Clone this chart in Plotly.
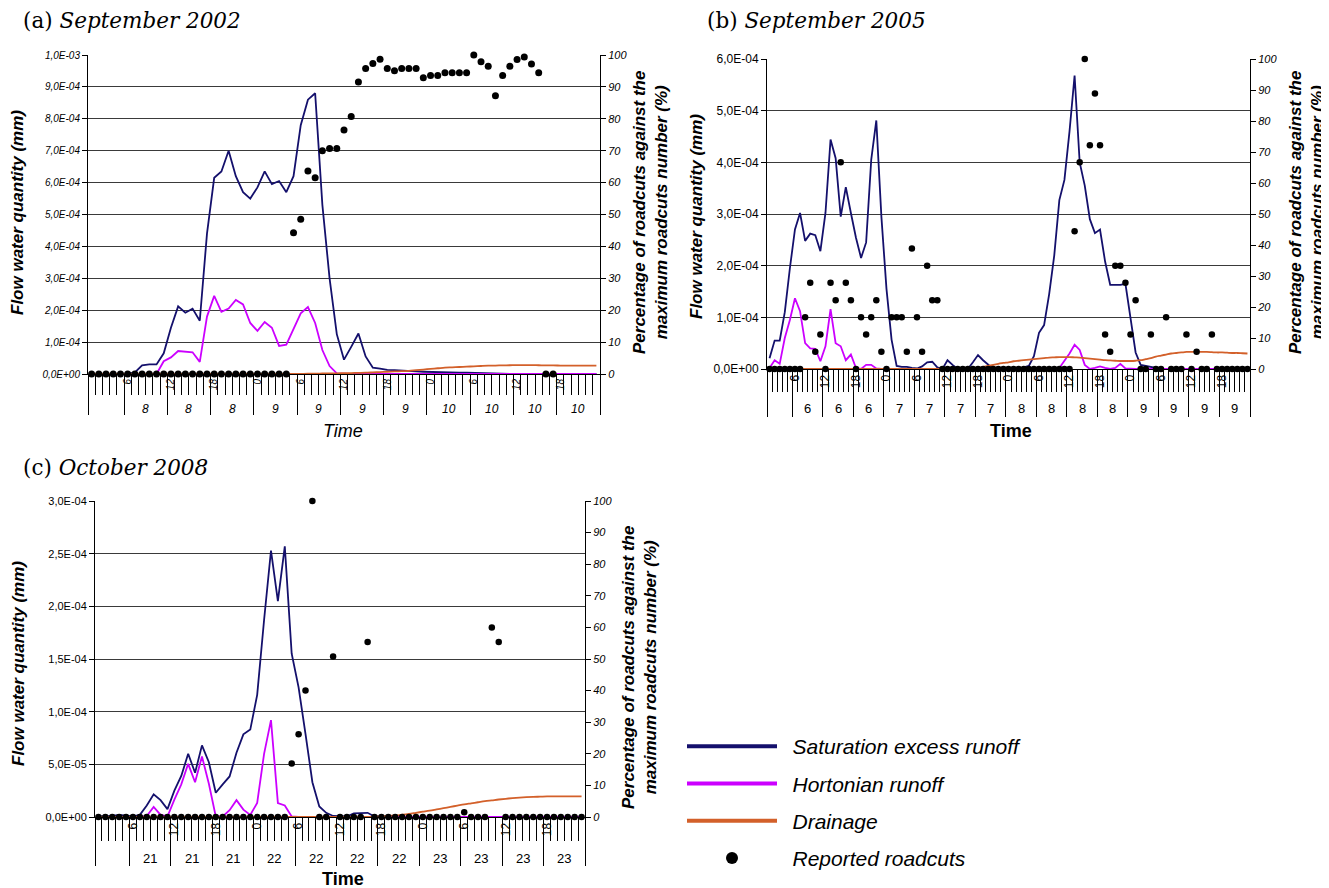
import plotly.graph_objects as go

REF_W, REF_H = 1329, 888
PAGE_OFF = 8                      # default body margin of the html page
W, H = REF_W - PAGE_OFF, REF_H - PAGE_OFF
NAVY = "#14106C"
MAGENTA = "#CC00FF"
ORANGE = "#D3602A"
SANS = "Liberation Sans"
SERIF = "DejaVu Serif"

# ---------------------------------------------------------------- DATA
# (a) September 2002 -- hourly categories (h=1..71), flow in 1e-4 mm, roadcuts in %
hours_a = list(range(1, 72))
sat_a = [0, 0, 0, 0, 0, 0, 0.05,
         0.27, 0.3, 0.3, 0.65, 1.45, 2.12, 1.92, 2.05, 1.67, 4.4,
         6.15, 6.35, 7.0, 6.2, 5.7, 5.5, 5.85, 6.35, 5.95, 6.05,
         5.7, 6.2, 7.8, 8.6, 8.8, 5.3, 3.0, 1.25, 0.45, 0.85,
         1.27, 0.55, 0.2, 0.17, 0.13, 0.12, 0.1, 0.09, 0.08, 0.07,
         0.06, 0.06, 0.05, 0.05, 0.04, 0.04, 0.03, 0.02, 0.02, 0.01,
         0, 0, 0, 0, 0, 0, 0, 0, 0, 0, 0, 0, 0, 0]
hort_a = [0, 0, 0, 0, 0, 0, 0, 0, 0, 0,
          0.4, 0.52, 0.72, 0.69, 0.68, 0.38, 1.8, 2.45, 1.95, 2.05,
          2.32, 2.18, 1.6, 1.35, 1.63, 1.45, 0.88, 0.92, 1.4, 1.9,
          2.1, 1.6, 0.75, 0.25, 0.02,
          0, 0, 0, 0, 0, 0, 0, 0, 0, 0, 0, 0, 0, 0, 0, 0, 0, 0,
          0, 0, 0, 0, 0, 0, 0, 0, 0, 0, 0, 0, 0, 0, 0, 0, 0, 0]
drain_a = [0] * 29 + [
    0.005, 0.01, 0.01, 0.015, 0.02, 0.02, 0.025, 0.03, 0.035, 0.04,
    0.05, 0.06, 0.07, 0.08, 0.09, 0.1, 0.12, 0.14, 0.16, 0.18,
    0.2, 0.21, 0.22, 0.23, 0.24, 0.25, 0.26, 0.265, 0.27, 0.275,
    0.28, 0.28, 0.28, 0.275, 0.27, 0.27, 0.265, 0.26, 0.26, 0.26,
    0.26, 0.26]
cuts_a = [0] * 28 + [
    44.3, 48.5, 63.6, 61.5, 70.0, 70.7, 70.7, 76.5, 80.7, 91.5,
    95.8, 97.3, 98.7, 95.8, 95.1, 95.8, 95.8, 95.8, 92.9, 93.6,
    93.6, 94.4, 94.4, 94.4, 94.4, 100, 97.9, 96.5, 87.2, 93.6,
    96.5, 98.6, 99.4, 97.2, 94.4,
    0, 0, None, None, None, None, None, None]
hour_labels_a = ["6", "12", "18", "0", "6", "12", "18", "0", "6", "12", "18"]
day_labels_a = ["8", "8", "8", "9", "9", "9", "9", "10", "10", "10", "10"]

# (b) September 2005 -- h=1..95
hours_b = list(range(1, 96))
sat_b = [0.21, 0.55, 0.55, 1.1, 1.95, 2.7, 3.02, 2.48, 2.62, 2.59,
         2.28, 3.02, 4.44, 4.08, 2.95, 3.52, 3.02, 2.54, 2.15, 2.45,
         4.05, 4.81, 2.95, 1.55, 0.57, 0.06, 0.04, 0.04, 0.02, 0.01,
         0.05, 0.13, 0.14, 0.03, 0, 0.17, 0.08, 0, 0, 0,
         0.13, 0.27, 0.17, 0.08, 0, 0, 0, 0, 0, 0,
         0.03, 0.06, 0.25, 0.7, 0.85, 1.45, 2.2, 3.27, 3.66, 4.6,
         5.68, 4.0, 3.55, 2.9, 2.63, 2.7, 2.08, 1.63, 1.63, 1.63,
         1.65, 0.95, 0.32, 0.08, 0.06, 0.03, 0.01, 0, 0, 0,
         0, 0, 0, 0, 0, 0, 0, 0, 0, 0,
         0, 0, 0, 0, 0]
hort_b = [0.02, 0.17, 0.1, 0.6, 0.95, 1.37, 1.12, 0.5, 0.4, 0.39,
          0.15, 0.44, 1.16, 0.5, 0.44, 0.17, 0.28, 0.02, 0, 0.08,
          0.08, 0.01, 0, 0, 0, 0, 0, 0, 0, 0,
          0, 0, 0, 0, 0, 0, 0, 0, 0, 0,
          0, 0, 0, 0, 0, 0, 0, 0, 0, 0,
          0, 0, 0, 0, 0, 0, 0, 0.02, 0.15, 0.3,
          0.47, 0.37, 0.08, 0, 0.02, 0.05, 0.02, 0, 0.02, 0.1,
          0.01, 0, 0, 0, 0, 0, 0, 0, 0, 0,
          0, 0, 0, 0, 0, 0, 0, 0, 0, 0,
          0, 0, 0, 0, 0]
drain_b = [0] * 40 + [
    0.01, 0.02, 0.04, 0.06, 0.08, 0.1, 0.12, 0.13, 0.15, 0.16,
    0.17, 0.18, 0.19, 0.2, 0.21, 0.22, 0.225, 0.23, 0.23, 0.23,
    0.225, 0.22, 0.21, 0.2, 0.19, 0.18, 0.17, 0.165, 0.16, 0.155,
    0.155, 0.155, 0.16, 0.17, 0.19, 0.21, 0.24, 0.26, 0.28, 0.3,
    0.31, 0.32, 0.33, 0.33, 0.33, 0.33, 0.33, 0.325, 0.32, 0.32,
    0.315, 0.31, 0.31, 0.305, 0.3]
cuts_b = [0, 0, 0, 0, 0, 0, 0, 16.7, 27.8, 5.6,
          11.1, 0, 27.8, 22.2, 66.7, 27.8, 22.2, 0, 16.7, 11.1,
          16.7, 22.2, 5.6, 0, 16.7, 16.7, 16.7, 5.6, 38.9, 16.7,
          5.6, 33.3, 22.2, 22.2, 0, 0, 0, 0, 0, 0,
          0, 0, 0, 0, 0, 0, 0, 0, 0, 0,
          0, 0, 0, 0, 0, 0, 0, 0, 0, 0,
          44.4, 66.7, 100, 72.2, 88.9, 72.2, 11.1, 5.6, 33.3, 33.3,
          27.8, 11.1, 22.2, 0, 0, 11.1, 0, 0, 16.7, 0,
          0, 0, 11.1, 0, 5.6, 0, 0, 11.1, 0, 0,
          0, 0, 0, 0, 0]
hour_labels_b = ["6", "12", "18", "0", "6", "12", "18", "0",
                 "6", "12", "18", "0", "6", "12", "18"]
day_labels_b = ["6", "6", "6", "7", "7", "7", "7", "8", "8", "8", "8",
                "9", "9", "9", "9"]

# (c) October 2008 -- h=1..71, flow in 1e-5 mm
hours_c = list(range(1, 72))
sat_c = [0.05, 0.05, 0.1, 0.2, 0.1, 0.05, 0.2, 1.1, 2.15, 1.6,
         0.75, 2.5, 3.9, 6.0, 4.2, 6.8, 5.2, 2.3, 3.1, 3.85,
         6.1, 7.85, 8.3, 11.6, 18.7, 25.3, 20.5, 25.7, 15.5, 12.3,
         7.9, 3.3, 1.0, 0.4, 0.1, 0.05, 0.05, 0.35, 0.4, 0.4,
         0.05, 0, 0, 0, 0, 0, 0, 0, 0, 0,
         0, 0, 0, 0, 0, 0, 0, 0, 0, 0,
         0, 0, 0, 0, 0, 0, 0, 0, 0, 0,
         0]
hort_c = [0, 0, 0, 0, 0, 0, 0, 0.1, 0.95, 0.2,
          0.05, 1.65, 3.1, 5.05, 3.3, 5.75, 3.15, 0.05, 0.05, 0.65,
          1.6, 0.7, 0.2, 1.33, 6.0, 9.2, 1.33, 1.1, 0.05, 0] + [0] * 41
drain_c = [0] * 40 + [
    0.03, 0.06, 0.1, 0.15, 0.22, 0.3, 0.4, 0.5, 0.6, 0.72,
    0.84, 0.96, 1.08, 1.2, 1.3, 1.4, 1.5, 1.58, 1.66, 1.73,
    1.79, 1.84, 1.88, 1.91, 1.93, 1.95, 1.96, 1.96, 1.96, 1.96,
    1.96]
cuts_c = [0] * 28 + [16.9, 26.2, 40.0, 100, 0, 0, 50.8, 0, 0, 0, 0, 55.4] + \
         [0] * 13 + [1.5, 0, 0, 0, 60.0, 55.4] + [0] * 12
hour_labels_c = ["6", "12", "18", "0", "6", "12", "18", "0", "6", "12", "18"]
day_labels_c = ["21", "21", "21", "22", "22", "22", "22", "23", "23", "23", "23"]

series_names = ["Saturation excess runoff", "Hortonian runoff", "Drainage",
                "Reported roadcuts"]

for arrs in [(hours_a, sat_a, hort_a, drain_a, cuts_a),
             (hours_b, sat_b, hort_b, drain_b, cuts_b),
             (hours_c, sat_c, hort_c, drain_c, cuts_c)]:
    for a in arrs[1:]:
        assert len(a) == len(arrs[0]), (len(a), len(arrs[0]))

# ---------------------------------------------------------------- FIGURE
fig = go.Figure()
layout = {}
annotations = []


def lkey(a):
    return a[0] + "axis" + a[1:]


def fx(p):
    return (p - PAGE_OFF) / W


def fy(p):
    return 1 - (p - PAGE_OFF) / H


def add_panel(idx, hours, sat, hort, drain, cuts, unit, ymax, ydtick,
              hour_labels, day_labels, box, st):
    xm = "x" if idx == 0 else f"x{2 * idx + 1}"
    xl = f"x{2 * idx + 2}"
    ym = "y" if idx == 0 else f"y{2 * idx + 1}"
    yr = f"y{2 * idx + 2}"
    lo, hi = hours[0] - 0.5, hours[-1] + 0.5
    hour_pos = [hours[0] + 5 + 6 * i for i in range(len(hour_labels))]
    bounds = [lo] + [p - 0.5 for p in hour_pos] + [hi]
    minor_vals = [h - 0.5 for h in hours] + [hi]
    centers = [(bounds[i + 1] + bounds[i + 2]) / 2 for i in range(len(day_labels))]

    for vals, col, shape in [(sat, NAVY, "linear"), (hort, MAGENTA, "linear"),
                             (drain, ORANGE, "spline")]:
        fig.add_trace(go.Scatter(
            x=hours, y=[v * unit for v in vals], xaxis=xm, yaxis=ym,
            mode="lines", line=dict(color=col, width=1.8, shape=shape),
            showlegend=False, hoverinfo="skip"))
    fig.add_trace(go.Scatter(
        x=hours, y=cuts, xaxis=xm, yaxis=yr, mode="markers",
        marker=dict(color="black", size=st["dot"]), cliponaxis=False,
        showlegend=False, hoverinfo="skip"))
    fig.add_trace(go.Scatter(x=[None], y=[None], xaxis=xl, yaxis=ym,
                             showlegend=False, hoverinfo="skip"))

    yvals = [k * ydtick for k in range(int(round(ymax / ydtick)) + 1)]
    ytext = [f"{v:.1E}".replace(".", ",") for v in yvals]

    layout[lkey(xm)] = dict(
        domain=[fx(box["x0"]), fx(box["x1"])], anchor=ym, range=[lo, hi],
        automargin=False,
        showgrid=False, zeroline=False, showline=True, linecolor="black",
        linewidth=1, tickmode="array", tickvals=hour_pos, ticktext=hour_labels,
        ticks="", tickangle=-90,
        tickfont=dict(family=SANS, size=st["hour_size"], color="black",
                      style=st["hour_style"]),
        minor=dict(ticks="outside", tickmode="array", tickvals=minor_vals,
                   ticklen=st["short"], tickcolor="black", tickwidth=1,
                   showgrid=False))
    layout[lkey(xl)] = dict(
        overlaying=xm, anchor=ym, side="bottom", range=[lo, hi],
        automargin=False,
        showgrid=False, zeroline=False, showline=False, tickmode="array",
        tickvals=bounds, ticks="outside", ticklen=st["long"],
        tickcolor="black", tickwidth=1, showticklabels=False)
    layout[lkey(ym)] = dict(
        domain=[fy(box["y1"]), fy(box["y0"])], anchor=xm, range=[0, ymax],
        automargin=False,
        tickmode="array", tickvals=yvals, ticktext=ytext, ticks="outside",
        ticklen=5, tickcolor="black", showgrid=True, gridcolor="#3a3a3a",
        gridwidth=1, showline=True, linecolor="black", zeroline=False,
        tickfont=dict(family=SANS, size=st["ytick_size"], color="black",
                      style=st["ytick_style"]))
    layout[lkey(yr)] = dict(
        overlaying=ym, anchor=xm, side="right", range=[0, 100],
        automargin=False,
        tickmode="array", tickvals=list(range(0, 101, 10)), ticks="outside",
        ticklen=5, tickcolor="black", showline=True, linecolor="black",
        showgrid=False, zeroline=False,
        tickfont=dict(family=SANS, size=11, color="black", style="italic"))

    for c, lab in zip(centers, day_labels):
        annotations.append(dict(
            xref=xm, yref=f"{ym} domain", x=c, y=0, yshift=-st["day_dy"],
            text=lab, showarrow=False, xanchor="center", yanchor="middle",
            font=dict(family=SANS, size=st["day_size"], color="black",
                      style=st["day_style"])))

    annotations.append(dict(
        xref="paper", yref="paper", x=fx(st["title_x"]), y=fy(st["title_y"]),
        text=st["title"], showarrow=False, xanchor="left", yanchor="middle",
        font=dict(family=SERIF, size=21.5, color="black")))
    annotations.append(dict(
        xref="paper", yref="paper", x=fx(st["time_x"]), y=fy(st["time_y"]),
        text="Time", showarrow=False, xanchor="center", yanchor="middle",
        font=dict(family=SANS, size=18, color="black",
                  style=st["time_style"], weight=st["time_weight"])))
    annotations.append(dict(
        xref="paper", yref="paper", x=fx(st["lt_x"]), y=fy(st["lt_y"]),
        text="Flow water quantity (mm)", textangle=-90, showarrow=False,
        xanchor="center", yanchor="middle",
        font=dict(family=SANS, size=17, color="black", style="italic",
                  weight="bold")))
    annotations.append(dict(
        xref="paper", yref="paper", x=fx(st["rt_x"]), y=fy(st["rt_y"]),
        text="Percentage of roadcuts against the<br>maximum roadcuts number (%)",
        textangle=-90, showarrow=False, xanchor="center", yanchor="middle",
        font=dict(family=SANS, size=17, color="black", style="italic",
                  weight="bold")))


add_panel(0, hours_a, sat_a, hort_a, drain_a, cuts_a, 1e-4, 1e-3, 1e-4,
          hour_labels_a, day_labels_a,
          dict(x0=88, x1=600, y0=55, y1=374),
          dict(dot=7, hour_size=10, hour_style="italic", short=20, long=40,
               ytick_size=10, ytick_style="italic", day_dy=35, day_size=12,
               day_style="italic", title="(a) <i>September 2002</i>",
               title_x=21, title_y=21, time_x=343, time_y=431,
               time_style="italic", time_weight="normal",
               lt_x=18, lt_y=213, rt_x=651, rt_y=213))
add_panel(1, hours_b, sat_b, hort_b, drain_b, cuts_b, 1e-4, 6e-4, 1e-4,
          hour_labels_b, day_labels_b,
          dict(x0=767, x1=1250, y0=59, y1=369),
          dict(dot=6.5, hour_size=12, hour_style="normal", short=22, long=47,
               ytick_size=12, ytick_style="normal", day_dy=40, day_size=13,
               day_style="normal", title="(b) <i>September 2005</i>",
               title_x=705, title_y=21, time_x=1011, time_y=431,
               time_style="normal", time_weight="bold",
               lt_x=697, lt_y=216, rt_x=1307, rt_y=213))
add_panel(2, hours_c, sat_c, hort_c, drain_c, cuts_c, 1e-5, 3e-4, 0.5e-4,
          hour_labels_c, day_labels_c,
          dict(x0=95, x1=585, y0=501, y1=817),
          dict(dot=6.5, hour_size=12, hour_style="normal", short=23, long=48,
               ytick_size=11, ytick_style="normal", day_dy=41, day_size=13,
               day_style="normal", title="(c) <i>October 2008</i>",
               title_x=21, title_y=467, time_x=343, time_y=879,
               time_style="normal", time_weight="bold",
               lt_x=18, lt_y=664, rt_x=639, rt_y=668))

# legend entries (leading en-space = gap between swatch and text)
GAP = "\u2002"
for name, col in zip(series_names[:3], [NAVY, MAGENTA, ORANGE]):
    fig.add_trace(go.Scatter(x=[None], y=[None], mode="lines", name=GAP + name,
                             legendgroup=name,
                             line=dict(color=col, width=4)))
fig.add_trace(go.Scatter(x=[None], y=[None], mode="markers",
                         name=GAP + series_names[3], legendgroup=series_names[3],
                         marker=dict(color="black", size=12)))

fig.update_layout(
    width=W, height=H, autosize=False,
    margin=dict(l=0, r=0, t=0, b=0, pad=0, autoexpand=False),
    paper_bgcolor="white", plot_bgcolor="white",
    showlegend=True,
    legend=dict(x=fx(682), y=fy(726), xanchor="left", yanchor="top",
                font=dict(family=SANS, size=21, color="black", style="italic"),
                itemwidth=90, tracegroupgap=7, traceorder="grouped",
                bgcolor="rgba(0,0,0,0)", borderwidth=0),
    annotations=annotations,
    **layout,
)

fig.write_html("out.html")
